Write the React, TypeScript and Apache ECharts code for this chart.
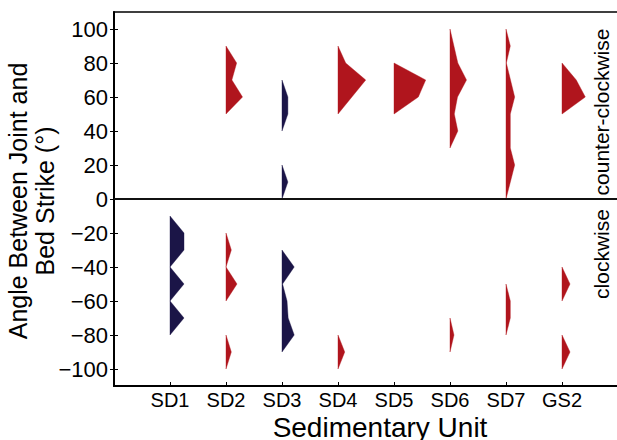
import React, { useEffect, useRef } from "react";
import * as echarts from "echarts";

// ---------------- data ----------------
const units = ["SD1", "SD2", "SD3", "SD4", "SD5", "SD6", "SD7", "GS2"];
const unitPositions = [1, 2, 3, 4, 5, 6, 7, 8];
const yTickValues = [-100, -80, -60, -40, -20, 0, 20, 40, 60, 80, 100];
const yTitle = "Angle Between Joint and\nBed Strike (°)";
const xTitle = "Sedimentary Unit";
const upperLabel = "counter-clockwise";
const lowerLabel = "clockwise";

// Half-violin profiles: each piece is a list of [angle (°), relative frequency]
const profSD1 = [
  [[-10, 0], [-20, 25], [-30, 25], [-40, 0], [-50, 25], [-60, 0], [-70, 25], [-80, 0]],
];
const profSD2 = [
  [[90, 0], [80, 19], [70, 10.5], [60, 29.5], [50, 0]],
  [[-20, 0], [-30, 9.5], [-40, 0], [-50, 19.6], [-60, 0]],
  [[-80, 0], [-90, 9.5], [-100, 0]],
];
const profSD3 = [
  [[70, 0], [60, 10.5], [50, 10.5], [40, 0]],
  [[20, 0], [10, 10.5], [0, 0]],
  [[-30, 0], [-40, 21.8], [-50, 1], [-60, 9], [-70, 11], [-80, 21.8], [-90, 0]],
];
const profSD4 = [
  [[90, 0], [80, 13.7], [70, 49.5], [50, 0]],
  [[-80, 0], [-90, 12], [-100, 0]],
];
const profSD5 = [
  [[80, 0], [70, 56.6], [60, 43.4], [50, 0]],
];
const profSD6 = [
  [[100, 0], [80, 14], [70, 29.5], [60, 13.4], [50, 7.7], [40, 14], [30, 0]],
  [[-70, 0], [-80, 7.1], [-90, 0]],
];
const profSD7 = [
  [[100, 0], [90, 7.7], [80, 0.6], [60, 15.5], [50, 7.7], [40, 7.7], [30, 7.7], [20, 15.5], [0, 0]],
  [[-50, 0], [-60, 7.7], [-70, 7.7], [-80, 0]],
];
const profGS2 = [
  [[80, 0], [70, 25.5], [60, 41.6], [50, 0]],
  [[-40, 0], [-50, 14.3], [-60, 0]],
  [[-80, 0], [-90, 14.3], [-100, 0]],
];
const profiles = [profSD1, profSD2, profSD3, profSD4, profSD5, profSD6, profSD7, profGS2];

// ---------------- style ----------------
const NAVY = "#1b1547";
const RED = "#b0151d";
const FONT = "'Liberation Sans', Arial, Helvetica, sans-serif";
const FREQ_SCALE = 0.01; // frequency -> category-width units
const colorFor = (u: string) => (u === "SD1" || u === "SD3" ? NAVY : RED);
const fmtNum = (v: number) => (v < 0 ? "\u2212" + Math.abs(v) : String(v));

export default function App() {
  const ref = useRef<HTMLDivElement>(null);

  useEffect(() => {
    document.body.style.margin = "0";
    if (!ref.current) return;
    const chart = echarts.init(ref.current, null, { renderer: "svg" });

    const pieceData: number[][] = [];
    profiles.forEach((pieces, ui) => pieces.forEach((_, pi) => pieceData.push([ui, pi])));

    const option: any = {
      animation: false,
      backgroundColor: "#fff",
      textStyle: { fontFamily: FONT },
      grid: {
        left: 114,
        top: 12,
        width: 504,
        height: 374,
        show: true,
        borderColor: "#000",
        borderWidth: 1.6,
        containLabel: false,
        outerBoundsMode: "none",
      },
      xAxis: {
        type: "value",
        min: 0,
        max: 9,
        splitLine: { show: false },
        axisLine: { show: true, onZero: false, lineStyle: { color: "#000", width: 2 } },
        axisTick: {
          show: true,
          inside: true,
          length: 4,
          customValues: unitPositions,
          lineStyle: { color: "#000", width: 1 },
        },
        axisLabel: {
          show: true,
          customValues: unitPositions,
          margin: 5,
          fontSize: 20,
          lineHeight: 18,
          color: "#000",
          fontFamily: FONT,
          formatter: (v: number) => units[Math.round(v) - 1] ?? "",
        },
      },
      yAxis: [
        {
          type: "value",
          min: -110,
          max: 110,
          splitLine: { show: false },
          axisLine: { show: true, onZero: false, lineStyle: { color: "#000", width: 2 } },
          axisTick: {
            show: true,
            inside: true,
            length: 4,
            customValues: yTickValues,
            lineStyle: { color: "#000", width: 1 },
          },
          axisLabel: {
            show: true,
            customValues: yTickValues,
            margin: 6,
            fontSize: 22,
            color: "#000",
            fontFamily: FONT,
            formatter: (v: number) => fmtNum(v),
          },
        },
        {
          type: "value",
          position: "right",
          min: -110,
          max: 110,
          splitLine: { show: false },
          axisLine: { show: false },
          axisTick: {
            show: true,
            inside: true,
            length: 4,
            customValues: yTickValues,
            lineStyle: { color: "#000", width: 1 },
          },
          axisLabel: { show: false },
        },
      ],
      series: [
        {
          type: "custom",
          xAxisIndex: 0,
          yAxisIndex: 0,
          data: pieceData,
          encode: { x: 0, y: 1 },
          renderItem: (params: any, api: any) => {
            const ui = api.value(0);
            const pi = api.value(1);
            const base = unitPositions[ui];
            const pts = profiles[ui][pi].map(([a, f]) => api.coord([base + f * FREQ_SCALE, a]));
            const c = colorFor(units[ui]);
            return {
              type: "polygon",
              shape: { points: pts },
              style: { fill: c, stroke: c, lineWidth: 0.4 },
            };
          },
          markLine: {
            silent: true,
            symbol: "none",
            label: { show: false },
            lineStyle: { color: "#111", width: 2, type: "solid" },
            data: [{ yAxis: 0 }],
          },
        },
      ],
      graphic: [
        {
          type: "text",
          x: 31,
          y: 201,
          rotation: Math.PI / 2,
          style: {
            text: yTitle,
            fontSize: 25,
            lineHeight: 27,
            fontFamily: FONT,
            fill: "#000",
            align: "center",
            verticalAlign: "middle",
          },
        },
        {
          type: "text",
          x: 380,
          y: 427,
          style: {
            text: xTitle,
            fontSize: 28,
            lineHeight: 24,
            fontFamily: FONT,
            fill: "#000",
            align: "center",
            verticalAlign: "middle",
          },
        },
        {
          type: "text",
          x: 601,
          y: 112,
          rotation: Math.PI / 2,
          style: {
            text: upperLabel,
            fontSize: 21,
            fontFamily: FONT,
            fill: "#000",
            align: "center",
            verticalAlign: "middle",
          },
        },
        {
          type: "text",
          x: 601,
          y: 254,
          rotation: Math.PI / 2,
          style: {
            text: lowerLabel,
            fontSize: 21,
            fontFamily: FONT,
            fill: "#000",
            align: "center",
            verticalAlign: "middle",
          },
        },
      ],
    };

    chart.setOption(option);
    return () => chart.dispose();
  }, []);

  return <div ref={ref} style={{ width: 617, height: 440 }} />;
}
